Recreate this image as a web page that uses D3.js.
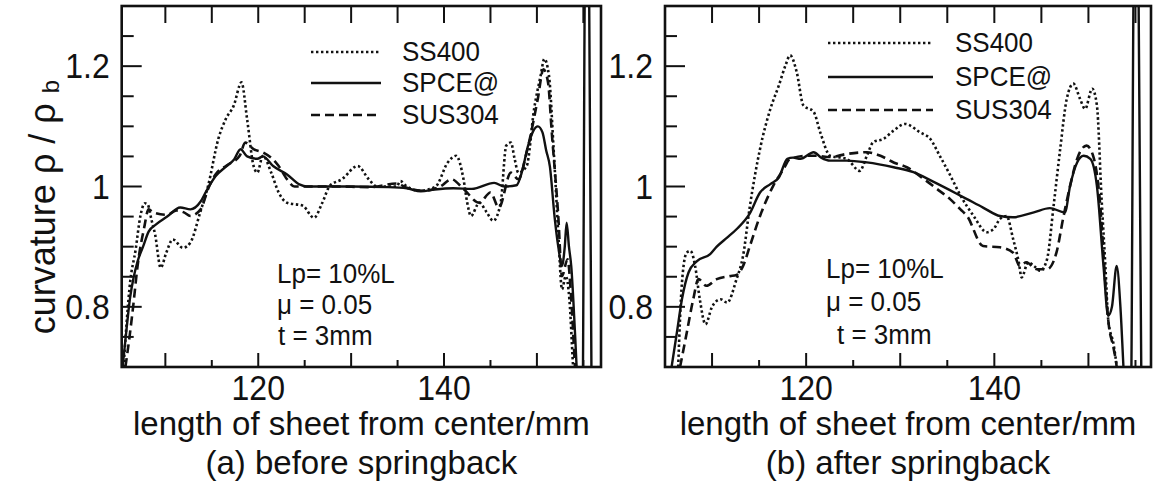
<!DOCTYPE html>
<html>
<head>
<meta charset="utf-8">
<script src="https://cdn.jsdelivr.net/npm/d3@7"></script>
<style>
  html, body { margin: 0; padding: 0; background: #fff; }
  svg { display: block; font-family: "Liberation Sans", Arial, Helvetica, sans-serif; }
</style>
</head>
<body>
<svg id="chart" width="1157" height="490"></svg>
<script>
// ---- data: [length mm, curvature ratio] ----
const seriesNames = ['SS400', 'SPCE@', 'SUS304'];

const beforeSS400 = [
  [105.5, 0.70], [106.2, 0.84], [106.8, 0.895], [107.3, 0.95], [107.8, 0.972], [108.1, 0.97],
  [108.5, 0.945], [108.9, 0.92], [109.5, 0.865], [110.1, 0.89], [110.8, 0.912], [111.9, 0.898],
  [112.7, 0.907], [113.75, 0.957], [114.6, 1.001], [115.7, 1.079], [116.5, 1.112], [117.35, 1.134],
  [118.2, 1.173], [118.8, 1.112], [119.5, 1.034], [119.9, 1.023], [120.5, 1.051], [121.4, 1.023],
  [122.2, 0.99], [123.1, 0.973], [124.8, 0.968], [126.0, 0.948], [126.9, 0.973], [127.7, 1.001],
  [129.0, 1.012], [130.7, 1.034], [131.9, 1.012], [132.8, 1.0], [134.9, 1.0], [135.3, 1.009],
  [136.0, 1.0], [137.4, 0.993], [139.1, 1.0], [140.4, 1.04], [141.3, 1.051], [142.1, 1.012],
  [142.5, 0.973], [142.9, 0.951], [143.8, 0.973], [144.6, 0.957], [145.3, 0.943], [146.1, 0.973],
  [146.7, 1.068], [147.2, 1.073], [147.6, 1.046], [148.0, 1.023], [148.9, 1.034], [149.7, 1.129],
  [150.4, 1.184], [150.8, 1.212], [151.3, 1.184], [151.8, 1.062], [152.3, 0.923], [152.7, 0.829],
  [153.1, 0.851], [153.5, 0.812], [153.9, 0.70], [154.1, 0.65]
];
const beforeSPCE = [
  [105.4, 0.70], [105.8, 0.76], [106.2, 0.815], [106.6, 0.85], [107.0, 0.875], [107.6, 0.9],
  [108.2, 0.925], [109.0, 0.937], [110.2, 0.95], [111.6, 0.965], [112.7, 0.962], [113.8, 0.975],
  [114.5, 0.995], [115.4, 1.017], [116.6, 1.034], [117.4, 1.045], [118.1, 1.062], [118.8, 1.05],
  [119.9, 1.046], [120.5, 1.05], [121.6, 1.034], [123.1, 1.02], [124.5, 1.003], [125.2, 1.0],
  [130.0, 1.0], [134.0, 0.999], [136.0, 0.997], [137.5, 0.992], [139.0, 0.995], [141.0, 0.997],
  [143.0, 0.996], [145.4, 1.006], [146.5, 1.0], [147.8, 1.002], [148.4, 1.025], [149.0, 1.065],
  [149.6, 1.092], [150.1, 1.10], [150.6, 1.09], [151.0, 1.06], [151.4, 1.033], [151.9, 0.95],
  [152.3, 0.90], [152.7, 0.868], [153.0, 0.9], [153.2, 0.94], [153.45, 0.9], [153.7, 0.867],
  [154.1, 0.757], [154.35, 0.68], [154.9, 0.62], [155.2, 1.38], [155.6, 1.38], [155.9, 0.62]
];
const beforeSUS304 = [
  [105.7, 0.70], [106.2, 0.757], [106.6, 0.81], [107.0, 0.867], [107.7, 0.93], [108.2, 0.962],
  [108.7, 0.957], [110.2, 0.953], [111.2, 0.96], [112.0, 0.957], [112.7, 0.951], [113.8, 0.962],
  [114.6, 0.996], [115.4, 1.02], [116.6, 1.035], [118.0, 1.051], [118.6, 1.073], [119.5, 1.062],
  [120.6, 1.056], [121.6, 1.045], [122.2, 1.034], [123.1, 1.012], [123.9, 1.0], [128.0, 1.0],
  [132.0, 0.999], [134.9, 1.005], [136.0, 0.998], [137.9, 0.993], [139.6, 1.0], [140.8, 1.012],
  [142.1, 0.996], [143.8, 0.973], [145.0, 0.99], [145.9, 0.965], [147.2, 1.023], [148.0, 1.012],
  [148.9, 1.057], [150.1, 1.146], [150.7, 1.195], [151.2, 1.173], [151.6, 1.09], [152.3, 0.951],
  [152.7, 0.851], [153.3, 0.879], [153.7, 0.812], [154.1, 0.70], [154.3, 0.65]
];

const afterSS400 = [
  [106.4, 0.70], [106.8, 0.84], [107.3, 0.89], [107.7, 0.893], [108.2, 0.868], [108.7, 0.8125],
  [109.3, 0.771], [110.0, 0.80], [110.9, 0.8125], [111.6, 0.807], [112.6, 0.846], [113.3, 0.885],
  [114.0, 0.965], [115.1, 1.0625], [116.2, 1.129], [117.1, 1.168], [117.8, 1.201], [118.3, 1.218],
  [119.0, 1.19], [119.7, 1.135], [120.8, 1.124], [121.5, 1.09], [122.55, 1.051], [124.3, 1.046],
  [125.7, 1.026], [126.45, 1.051], [127.15, 1.074], [128.2, 1.079], [129.3, 1.093], [130.5, 1.104],
  [132.1, 1.09], [133.2, 1.079], [134.2, 1.051], [135.2, 1.022], [136.4, 0.985], [137.8, 0.951],
  [139.2, 0.924], [139.9, 0.929], [140.6, 0.946], [141.3, 0.951], [142.0, 0.9125], [142.6, 0.874],
  [142.9, 0.849], [143.6, 0.874], [144.2, 0.868], [144.9, 0.86], [145.6, 0.879], [146.3, 0.968],
  [147.0, 1.0625], [147.7, 1.146], [148.4, 1.171], [149.1, 1.146], [149.65, 1.129], [150.4, 1.1625],
  [150.9, 1.135], [151.4, 0.979], [151.8, 0.868], [152.1, 0.779], [152.7, 0.735], [153.0, 0.70],
  [153.2, 0.66]
];
const afterSPCE = [
  [105.7, 0.70], [106.26, 0.757], [106.8, 0.8125], [107.5, 0.857], [108.4, 0.876], [109.8, 0.8875],
  [110.5, 0.9], [111.6, 0.915], [112.6, 0.929], [114.0, 0.955], [115.1, 0.99], [116.2, 1.004],
  [117.1, 1.015], [118.0, 1.046], [118.6, 1.048], [119.4, 1.046], [120.8, 1.057], [121.6, 1.048],
  [122.55, 1.043], [124.3, 1.043], [126.45, 1.04], [129.3, 1.032], [131.4, 1.024], [133.5, 1.008],
  [136.0, 0.988], [137.1, 0.979], [138.8, 0.965], [140.6, 0.951], [142.0, 0.949], [144.2, 0.957],
  [145.9, 0.964], [147.5, 0.957], [148.05, 1.001], [148.8, 1.04], [149.5, 1.051], [150.2, 1.046],
  [150.9, 1.001], [151.6, 0.868], [152.1, 0.785], [152.5, 0.80], [153.0, 0.868], [153.4, 0.80],
  [153.7, 0.707], [153.85, 0.66], [154.5, 0.62], [154.85, 1.38], [155.3, 1.38], [155.65, 0.62]
];
const afterSUS304 = [
  [106.6, 0.70], [107.3, 0.756], [108.0, 0.8125], [108.55, 0.846], [109.4, 0.835], [110.5, 0.846],
  [111.9, 0.851], [112.6, 0.853], [113.3, 0.868], [114.0, 0.90], [115.1, 0.951], [116.0, 0.985],
  [116.5, 1.001], [117.6, 1.029], [118.3, 1.046], [120.1, 1.051], [121.1, 1.051], [122.55, 1.049],
  [124.3, 1.054], [126.45, 1.057], [127.9, 1.051], [129.3, 1.04], [130.7, 1.032], [132.5, 1.0125],
  [133.9, 0.996], [135.3, 0.979], [136.4, 0.962], [137.1, 0.951], [138.8, 0.901], [140.6, 0.899],
  [142.0, 0.89], [142.7, 0.868], [143.4, 0.874], [144.5, 0.8625], [145.6, 0.8625], [146.6, 0.89],
  [147.3, 0.946], [148.05, 1.001], [148.8, 1.046], [149.8, 1.068], [150.5, 1.051], [151.2, 0.979],
  [151.8, 0.84], [152.1, 0.779], [152.7, 0.729], [153.0, 0.70], [153.2, 0.66]
];

const xTicks = [110, 115, 120, 125, 130, 135, 140, 145, 150, 155];
const xTickLabels = [120, 140];
const yTicks = [0.75, 0.8, 0.85, 0.9, 0.95, 1, 1.05, 1.1, 1.15, 1.2, 1.25];
const yTickLabels = [0.8, 1, 1.2];
const yDomain = [0.7, 1.3];
const notes = ['Lp= 10%L', '\u03bc = 0.05', 't = 3mm'];

const ink = '#111';
const dashes = { 'SS400': '2.4,2.6', 'SPCE@': null, 'SUS304': '9,5' };

const svg = d3.select('#chart');

/**
 * text placed with an optional vertical stretch, baseline stays at y
 */
function label(g, x, y, str, size, anchor, stretch) {
  return g.append('text')
    .attr('transform', `translate(${x},${y}) scale(1,${stretch || 1.08})`)
    .attr('text-anchor', anchor || 'start')
    .style('font-size', size + 'px')
    .attr('fill', ink)
    .text(str);
}

/**
 * draws one of the two panels
 */
function drawPanel(p) {
  const x = d3.scaleLinear().domain(p.xDomain).range([p.x0, p.x1]);
  const y = d3.scaleLinear().domain(yDomain).range([367, 6]);
  const g = svg.append('g');

  // clip the curves to the frame
  g.append('clipPath').attr('id', p.id + '-clip')
    .append('rect')
    .attr('x', p.x0).attr('y', y(yDomain[1]))
    .attr('width', p.x1 - p.x0).attr('height', y(yDomain[0]) - y(yDomain[1]));

  const line = d3.line()
    .x(d => x(d[0]))
    .y(d => y(d[1]))
    .curve(d3.curveMonotoneX);

  const curves = g.append('g').attr('clip-path', `url(#${p.id}-clip)`);
  seriesNames.forEach((name, i) => {
    curves.append('path')
      .datum(p.data[i])
      .attr('d', line)
      .attr('fill', 'none')
      .attr('stroke', ink)
      .attr('stroke-width', name === 'SPCE@' ? 2.4 : 2.6)
      .attr('stroke-dasharray', dashes[name]);
  });

  // ticks: left inward, top all equal, bottom alternating
  yTicks.forEach(v => {
    const major = yTickLabels.includes(v);
    g.append('line')
      .attr('x1', p.x0).attr('x2', p.x0 + (major ? 20 : 12))
      .attr('y1', y(v)).attr('y2', y(v))
      .attr('stroke', ink).attr('stroke-width', 2);
  });
  xTicks.forEach(v => {
    g.append('line')
      .attr('x1', x(v)).attr('x2', x(v))
      .attr('y1', y(yDomain[1])).attr('y2', y(yDomain[1]) + 17)
      .attr('stroke', ink).attr('stroke-width', 2);
    g.append('line')
      .attr('x1', x(v)).attr('x2', x(v))
      .attr('y1', y(yDomain[0])).attr('y2', y(yDomain[0]) - (v % 10 === 0 ? 14 : 7))
      .attr('stroke', ink).attr('stroke-width', 2);
  });

  g.append('rect')
    .attr('x', p.x0).attr('y', y(yDomain[1]))
    .attr('width', p.x1 - p.x0).attr('height', y(yDomain[0]) - y(yDomain[1]))
    .attr('fill', 'none').attr('stroke', ink).attr('stroke-width', 2.6);

  // tick labels
  xTickLabels.forEach(v => label(g, x(v), 400, v, 32, 'middle'));
  yTickLabels.forEach(v => label(g, p.x0 - 12, y(v) + 12, v, 32, 'end'));

  // axis title + caption
  const cx = (p.x0 + p.x1) / 2;
  label(g, cx, 435, 'length of sheet from center/mm', 33, 'middle', 1);
  label(g, cx, 474, p.caption, 33, 'middle', 1);

  // legend
  seriesNames.forEach((name, i) => {
    const ly = p.legend.rows[i];
    g.append('line')
      .attr('x1', p.legend.l0).attr('x2', p.legend.l1)
      .attr('y1', ly).attr('y2', ly)
      .attr('stroke', ink).attr('stroke-width', 2.4)
      .attr('stroke-dasharray', dashes[name]);
    label(g, p.legend.tx, ly + 9, name, 26);
  });

  // conditions
  notes.forEach((t, i) => label(g, p.notes.x[i], p.notes.y[i], t, 26));
}

drawPanel({
  id: 'a', x0: 121.7, x1: 601, xDomain: [105.3, 156.9],
  data: [beforeSS400, beforeSPCE, beforeSUS304],
  caption: '(a) before springback',
  legend: { l0: 311, l1: 381, tx: 402, rows: [52, 83, 115] },
  notes: { x: [277, 277, 278], y: [283, 314, 345] }
});
drawPanel({
  id: 'b', x0: 665, x1: 1151, xDomain: [105.0, 156.65],
  data: [afterSS400, afterSPCE, afterSUS304],
  caption: '(b) after springback',
  legend: { l0: 828, l1: 933, tx: 955, rows: [43, 77, 110] },
  notes: { x: [826, 826, 837], y: [278, 311, 344] }
});

// y axis title (left panel only)
const yTitle = svg.append('text')
  .attr('transform', 'translate(55,207) rotate(-90)')
  .attr('text-anchor', 'middle')
  .style('font-size', '36px').attr('fill', ink);
yTitle.append('tspan').text('curvature  \u03c1 / \u03c1 ');
yTitle.append('tspan').attr('dy', 4).style('font-size', '24px').text('b');
</script>
</body>
</html>
